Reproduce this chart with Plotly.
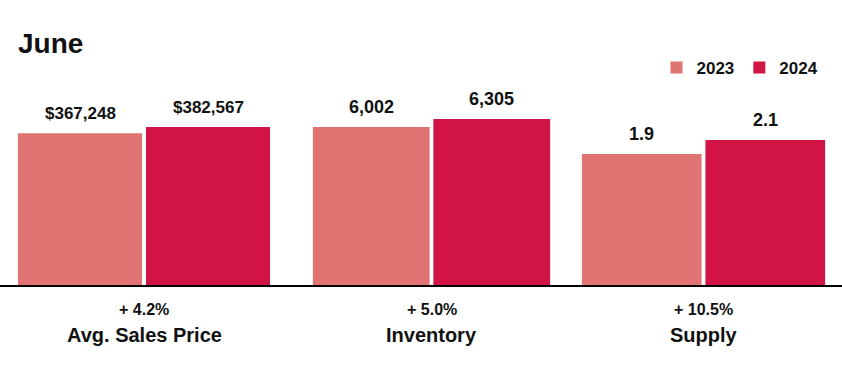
import plotly.graph_objects as go

# ---- data ----
categories = ["Avg. Sales Price", "Inventory", "Supply"]
years = ["2023", "2024"]
values_2023 = [367248, 6002, 1.9]
values_2024 = [382567, 6305, 2.1]
value_labels_2023 = ["$367,248", "6,002", "1.9"]
value_labels_2024 = ["$382,567", "6,305", "2.1"]
pct_labels = ["+ 4.2%", "+ 5.0%", "+ 10.5%"]
title_text = "June"

# ---- styles ----
colors = {"2023": "#E07473", "2024": "#D21445"}
W, H = 842, 374
FONT = "Liberation Sans, Arial, Helvetica, sans-serif"
TITLE_FONT = "Liberation Sans Narrow, Arial Narrow, Liberation Sans, sans-serif"
x_domains = [(16 / W, 272 / W), (311 / W, 552 / W), (580 / W, 827 / W)]
y_max = [543800, 8533, 3.25]
label_sizes = [17, 18, 18]

fig = go.Figure()
series = {"2023": (values_2023, value_labels_2023), "2024": (values_2024, value_labels_2024)}

for i, cat in enumerate(categories):
    sfx = "" if i == 0 else str(i + 1)
    for j, yr in enumerate(years):
        vals, labs = series[yr]
        fig.add_trace(go.Bar(
            x=[yr], y=[vals[i]], name=yr,
            marker=dict(color=colors[yr], line=dict(width=0)),
            xaxis="x" + sfx, yaxis="y" + sfx,
            legendgroup=yr, showlegend=(i == 0),
            hoverinfo="skip",
        ))
        # category axes place annotations by category serial number
        fig.add_annotation(
            x=j, y=vals[i], xref="x" + sfx, yref="y" + sfx,
            text=labs[i], showarrow=False, yanchor="bottom", yshift=8,
            font=dict(family=FONT, size=label_sizes[i], color="#111111", weight="bold"),
        )
    # percent change
    fig.add_annotation(
        x=0.5, y=0, xref="x" + sfx + " domain", yref="paper",
        text=pct_labels[i], showarrow=False, yanchor="middle", yshift=-23,
        font=dict(family=FONT, size=16, color="#111111", weight="bold"),
    )
    # category name
    fig.add_annotation(
        x=0.5, y=0, xref="x" + sfx + " domain", yref="paper",
        text=cat, showarrow=False, yanchor="middle", yshift=-49,
        font=dict(family=FONT, size=20, color="#111111", weight="bold"),
    )
    fig.layout["xaxis" + sfx] = dict(
        domain=list(x_domains[i]), anchor="y" + sfx, type="category",
        categoryorder="array", categoryarray=years,
        range=[-0.5, len(years) - 0.5], autorange=False,
        showticklabels=False, showgrid=False, zeroline=False, showline=False,
        ticks="", fixedrange=True,
    )
    fig.layout["yaxis" + sfx] = dict(
        domain=[0, 1], anchor="x" + sfx, range=[0, y_max[i]], autorange=False,
        showticklabels=False, showgrid=False, zeroline=False, showline=False,
        ticks="", fixedrange=True,
    )

# baseline across the full width
fig.add_shape(type="line", xref="paper", yref="paper", x0=-0.02, x1=1.02, y0=0, y1=0,
              line=dict(color="#000000", width=2), layer="above")

fig.update_layout(
    width=W, height=H,
    margin=dict(l=0, r=0, t=60, b=88),
    paper_bgcolor="white", plot_bgcolor="white",
    barmode="relative", bargap=0.031,
    title=dict(text=title_text, x=18 / W, xanchor="left", y=1 - 43 / H, yanchor="middle",
               font=dict(family=TITLE_FONT, size=28, color="#111111", weight="bold")),
    legend=dict(orientation="h", x=0.978, xanchor="right", y=0.965, yanchor="middle",
                font=dict(family=FONT, size=17, color="#111111", weight="bold"),
                itemwidth=30, bgcolor="rgba(0,0,0,0)", traceorder="normal"),
    font=dict(family=FONT),
)

fig.write_html("out.html")
